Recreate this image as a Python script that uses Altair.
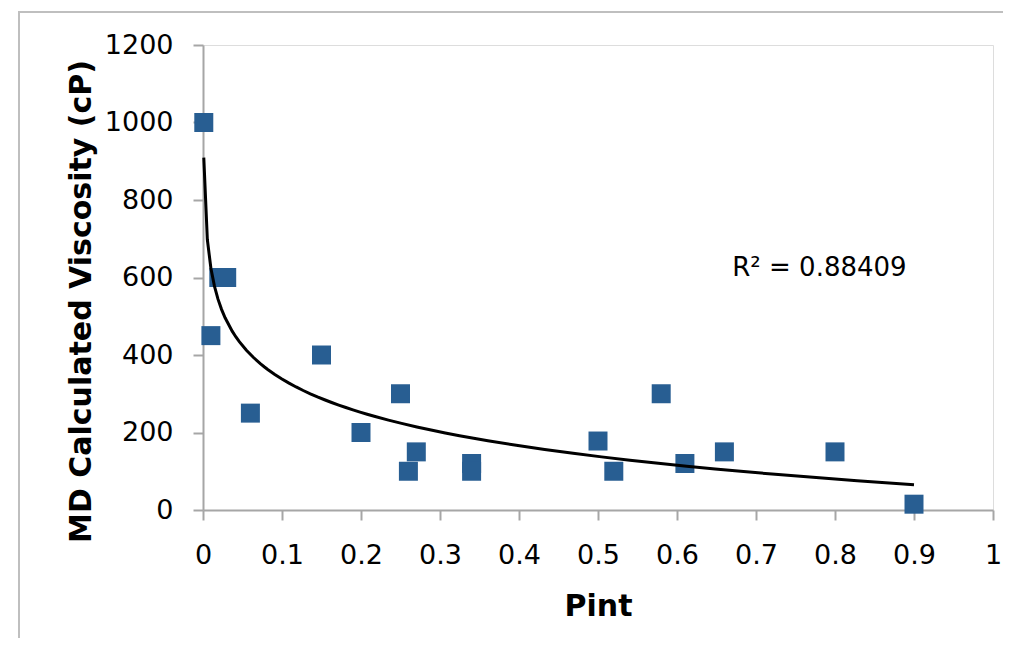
import altair as alt
import pandas as pd

# Data
pint = [0.001, 0.01, 0.02, 0.03, 0.06, 0.15, 0.20, 0.25, 0.26, 0.27,
        0.34, 0.34, 0.50, 0.52, 0.58, 0.61, 0.66, 0.80, 0.90]
viscosity = [1000, 450, 600, 600, 250, 400, 200, 300, 100, 150,
             120, 100, 178, 100, 300, 120, 150, 150, 15]

x_ticks = [0, 0.1, 0.2, 0.3, 0.4, 0.5, 0.6, 0.7, 0.8, 0.9, 1]
y_ticks = [0, 200, 400, 600, 800, 1000, 1200]

r2_label = ["R² = 0.88409"]
r2_x = [0.67]
r2_y = [625]

df = pd.DataFrame({"Pint": pint, "Visc": viscosity})
lab = pd.DataFrame({"t": r2_label, "x": r2_x, "y": r2_y})

FONT = "DejaVu Sans"
AXIS_GRAY = "#A6A6A6"

xscale = alt.Scale(domain=[0, 1], nice=False, zero=False)
yscale = alt.Scale(domain=[0, 1200], nice=False)

xaxis = alt.Axis(
    values=x_ticks, format="~g", grid=False,
    domainColor=AXIS_GRAY, domainWidth=2, tickColor=AXIS_GRAY, tickWidth=2,
    tickSize=10, labelFont=FONT, labelFontSize=27, labelColor="black",
    labelPadding=22, labelFlush=False, labelOverlap=False,
    title="Pint", titleFont=FONT, titleFontSize=30, titleFontWeight="bold",
    titleColor="black", titleY=96, titleBaseline="middle",
)
yaxis = alt.Axis(
    values=y_ticks, format="d", grid=False,
    domainColor=AXIS_GRAY, domainWidth=2, tickColor=AXIS_GRAY, tickWidth=2,
    tickSize=10, labelFont=FONT, labelFontSize=27, labelColor="black",
    labelPadding=20, labelOverlap=False,
    title="MD Calculated Viscosity (cP)", titleFont=FONT, titleFontSize=30,
    titleFontWeight="bold", titleColor="black",
    titleX=-122, titleY=256, titleAngle=270, titleAlign="center",
    titleBaseline="middle",
)

base = alt.Chart(df)

trend = base.transform_regression(
    "Pint", "Visc", method="log", extent=[0.001, 0.9]
).mark_line(color="black", strokeWidth=3).encode(
    x=alt.X("Pint:Q", scale=xscale, axis=xaxis),
    y=alt.Y("Visc:Q", scale=yscale, axis=yaxis),
)

points = base.mark_square(size=361, color="#285E92", opacity=1).encode(
    x=alt.X("Pint:Q", scale=xscale),
    y=alt.Y("Visc:Q", scale=yscale),
)

text = alt.Chart(lab).mark_text(
    font=FONT, fontSize=26, align="left", baseline="middle", color="black"
).encode(
    x=alt.X("x:Q", scale=xscale),
    y=alt.Y("y:Q", scale=yscale),
    text="t:N",
)

# outer chart-area frame (only its top and left edges fall inside the page)
frame = alt.Chart(lab).mark_rect(
    fill=None, stroke="#BFBFBF", strokeWidth=2
).encode(
    x=alt.value(-184), x2=alt.value(900), y=alt.value(-33), y2=alt.value(700)
)

chart = alt.layer(frame, points, trend, text).properties(
    width=790, height=465,
    autosize=alt.AutoSizeParams(type="none"),
    padding={"left": 195, "top": 37, "right": 10, "bottom": 128},
).configure_view(stroke=None).configure(background="white")

chart.save("out.html", embed_options={"renderer": "svg", "actions": False})
